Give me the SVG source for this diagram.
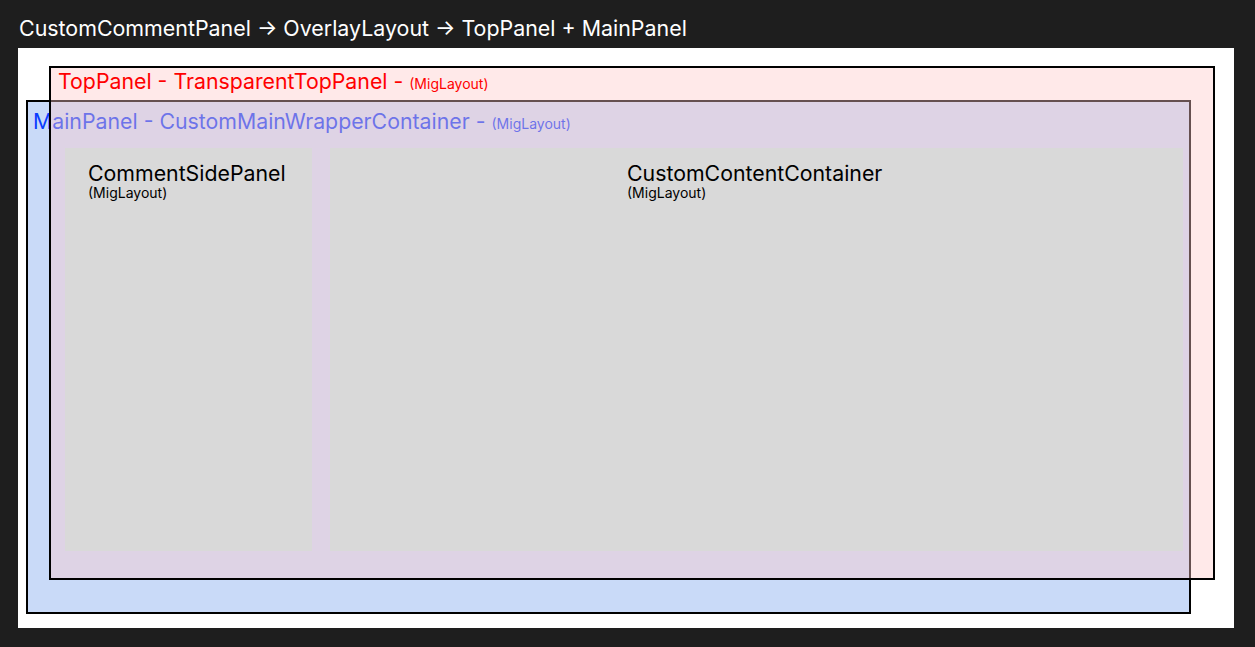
<svg xmlns="http://www.w3.org/2000/svg" width="1255" height="647" viewBox="0 0 1255 647">
  <style>
    text { font-family: Inter, "Noto Sans", "Liberation Sans", sans-serif; }
    .title { font-size: 21.4px; fill: #ffffff; }
    .big { font-size: 21.3px; }
    .small { font-size: 14px; }
    .frame { stroke: #000000; stroke-width: 2; }
    .gray { fill: #d9d9d9; }
    .dark { fill: #000000; }
  </style>
  <rect x="0" y="0" width="1255" height="647" fill="#1e1e1e"/>
  <g id="title">
    <text class="title" x="19" y="36">CustomCommentPanel → OverlayLayout → TopPanel + MainPanel</text>
  </g>
  <g id="custom-comment-panel">
    <rect x="18" y="48" width="1216" height="580" fill="#ffffff"/>
  </g>
  <g id="main-panel">
    <rect class="frame" x="27" y="101" width="1163" height="512" fill="#c9daf8"/>
    <text class="big" x="33" y="129" fill="#0a3cff">MainPanel - CustomMainWrapperContainer - <tspan class="small">(MigLayout)</tspan></text>
  </g>
  <g id="top-panel">
    <rect class="frame" x="50" y="67" width="1164" height="512" fill="#ffc9c9" fill-opacity="0.4"/>
    <text class="big" x="58" y="89" fill="#ff0000">TopPanel - TransparentTopPanel - <tspan class="small">(MigLayout)</tspan></text>
  </g>
  <g id="comment-side-panel">
    <rect class="gray" x="65" y="148" width="247" height="403"/>
    <text class="big dark" x="88" y="181">CommentSidePanel</text>
    <text class="small dark" x="88" y="198">(MigLayout)</text>
  </g>
  <g id="custom-content-container">
    <rect class="gray" x="330" y="148" width="853" height="403"/>
    <text class="big dark" x="627" y="181">CustomContentContainer</text>
    <text class="small dark" x="627" y="198">(MigLayout)</text>
  </g>
  <g id="connectors"/>
</svg>
